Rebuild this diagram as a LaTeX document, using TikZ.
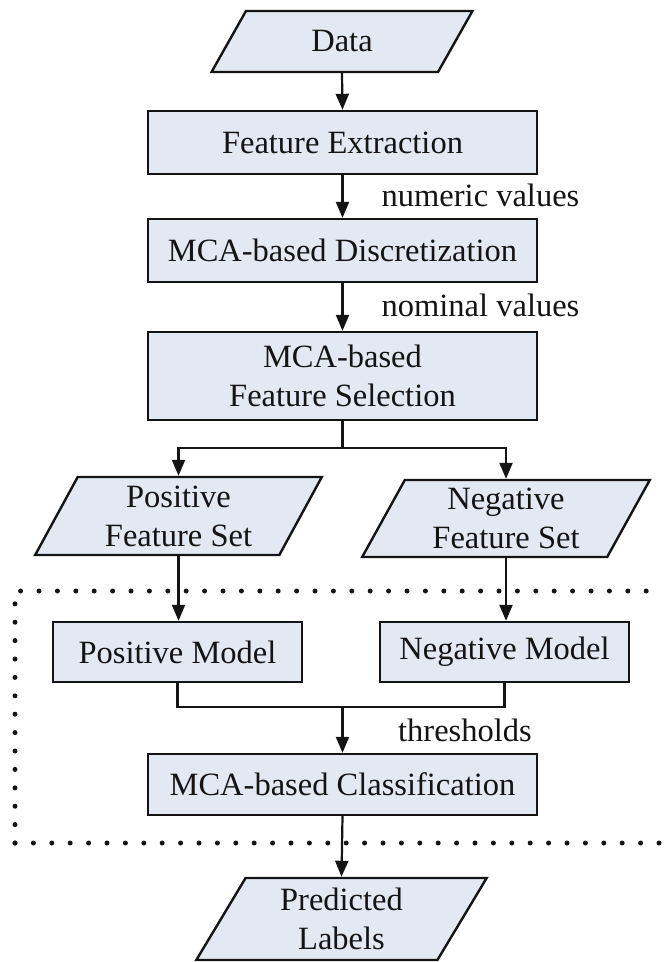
\documentclass[tikz,border=0pt]{standalone}
\usepackage{fontspec}
\setmainfont{Liberation Serif}
\usetikzlibrary{shapes.geometric,arrows.meta}
\definecolor{boxfill}{HTML}{E3E9F3}
\definecolor{ink}{HTML}{141414}
\tikzset{
  base/.style={draw=ink, line width=2.4pt, fill=boxfill, text=ink, inner sep=0pt,
    font=\fontsize{32.5}{39}\selectfont, align=center},
  procbox/.style={base, rectangle, minimum width=389pt},
  databox/.style={base, trapezium, trapezium left angle=63, trapezium right angle=117,
    trapezium stretches=true},
  conn/.style={draw=ink, line width=2.2pt},
  arr/.style={conn, -{Triangle[length=16pt,width=13pt]}},
  lbl/.style={text=ink, font=\fontsize{32.5}{39}\selectfont, inner sep=0pt},
  dotline/.style={draw=ink, line width=5pt, line cap=round, dash pattern=on 0pt off 18.4pt}
}
\begin{document}
\begin{tikzpicture}[x=1pt,y=-1pt]
\useasboundingbox (0,0) rectangle (665,962);
% dotted region
\draw[dotline] (15,843) -- (15,591) -- (660,591);
\draw[dotline] (15,843) -- (660,843);
% nodes
\node[databox, minimum width=263pt, minimum height=61pt] (data) at (342,41.5) {Data};
\node[procbox, minimum height=63pt] (fe) at (342.5,142.5) {Feature Extraction};
\node[procbox, minimum height=63pt] (disc) at (342.5,250.5) {MCA-based Discretization};
\node[procbox, minimum height=88pt] (fs) at (342.5,376) {MCA-based\\Feature Selection};
\node[databox, minimum width=287pt, minimum height=78pt] (pos) at (178.5,516) {Positive\\Feature Set};
\node[databox, minimum width=288pt, minimum height=77pt] (neg) at (506,518.5) {Negative\\Feature Set};
\node[base, rectangle, minimum width=249pt, minimum height=60pt] (pm) at (177.5,652) {Positive Model};
\node[base, rectangle, minimum width=249pt, minimum height=60pt] (nm) at (504.5,652) {Negative Model};
\node[procbox, minimum height=61pt] (cls) at (342.5,784.5) {MCA-based Classification};
\node[databox, minimum width=291pt, minimum height=82pt] (pred) at (341.5,919) {Predicted\\Labels};
% labels
\node[lbl] (numv) at (480.5,195) {numeric values};
\node[lbl] (nomv) at (480.5,305) {nominal values};
\node[lbl] (thr) at (465,730) {thresholds};
% connectors
\draw[arr] (data.south) -- (fe.north);
\draw[arr] (fe.south) -- (disc.north);
\draw[arr] (disc.south) -- (fs.north);
\coordinate (split) at (342.5,448);
\draw[conn] (fs.south) -- (split);
\draw[arr] (split) -| (pos.north);
\draw[arr] (split) -| (neg.north);
\draw[arr] (pos.south) -- (pos.south |- pm.north);
\draw[arr] (neg.south) -- (neg.south |- nm.north);
\coordinate (join) at (342.5,707);
\draw[conn] (pm.south) |- (join) -| (nm.south);
\draw[arr] (join) -- (cls.north);
\draw[arr] (cls.south) -- (pred.north);
\end{tikzpicture}
\end{document}
